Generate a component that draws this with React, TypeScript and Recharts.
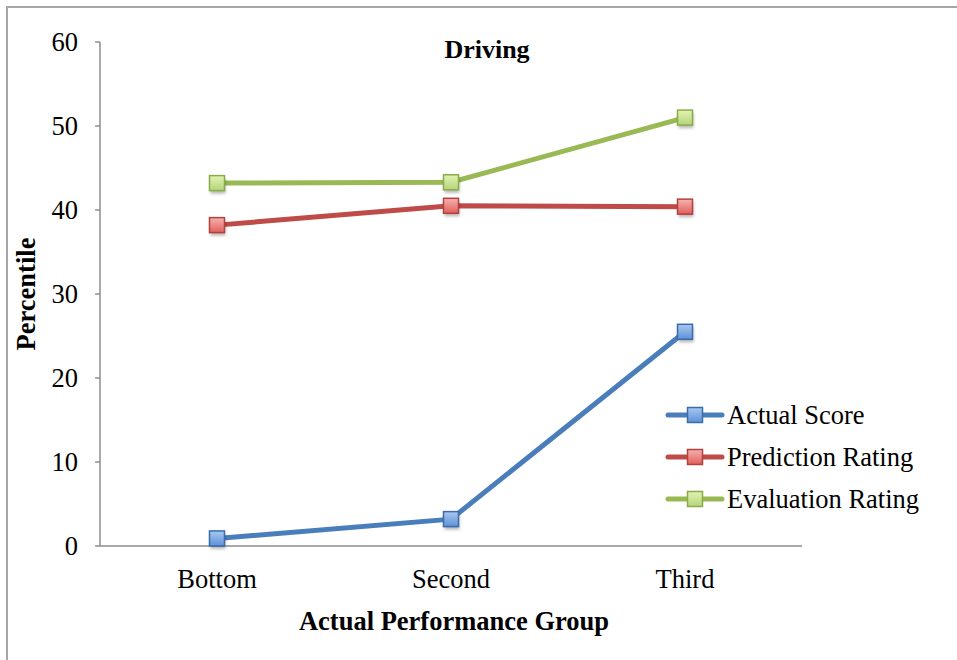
import { LineChart, Line, XAxis, YAxis, Legend, Label } from "recharts";

const groups = ["Bottom", "Second", "Third"];
const actualScore = [0.9, 3.2, 25.5];
const predictionRating = [38.2, 40.5, 40.4];
const evaluationRating = [43.2, 43.3, 51.0];
const yTicks = [0, 10, 20, 30, 40, 50, 60];
const groupEdges = [0, 1, 2, 3];

const series = [
    { key: "actual", name: "Actual Score", line: "#4a7ebb", border: "#3a6cad", light: "#a9c8f0", dark: "#5d91d8", grad: "gBlue" },
    { key: "prediction", name: "Prediction Rating", line: "#be4b48", border: "#b5413e", light: "#f6b2b0", dark: "#e0605c", grad: "gRed" },
    { key: "evaluation", name: "Evaluation Rating", line: "#98b954", border: "#8aac48", light: "#e2f3b3", dark: "#b5d47a", grad: "gGreen" }
];

const data = groups.map((group, i) => ({
    group,
    actual: actualScore[i],
    prediction: predictionRating[i],
    evaluation: evaluationRating[i]
}));

const FONT = "'Liberation Serif', 'Times New Roman', serif";
const AXIS = "#8c8c8c";

function squareDot(s: (typeof series)[number]) {
    return (props: any) => {
        const { cx, cy, index } = props;
        if (cx == null || cy == null) return <g key={index} />;
        return (
            <g key={`${s.key}-${index}`}>
                <rect x={cx - 6.5} y={cy - 4.5} width={15} height={15} fill="rgba(0,0,0,0.28)" filter="url(#blur)" />
                <rect x={cx - 7.5} y={cy - 7.5} width={15} height={15} fill={`url(#${s.grad})`} stroke={s.border} strokeWidth={1.5} />
            </g>
        );
    };
}

function LegendBox() {
    return (
        <div style={{ fontFamily: FONT, fontSize: 26.5, color: "#000" }}>
            {series.map((s) => (
                <div key={s.key} style={{ display: "flex", alignItems: "center", height: 42 }}>
                    <svg width={58} height={20} style={{ overflow: "visible" }}>
                        <line x1={2} y1={10} x2={56} y2={10} stroke={s.line} strokeWidth={5} strokeLinecap="round" />
                        <rect x={21.5} y={2.5} width={15} height={15} fill={`url(#${s.grad})`} stroke={s.border} strokeWidth={1.5} />
                    </svg>
                    <span style={{ marginLeft: 3, whiteSpace: "nowrap" }}>{s.name}</span>
                </div>
            ))}
        </div>
    );
}

export default function App() {
    return (
        <div style={{ position: "absolute", left: 0, top: 0, width: 957, height: 660, background: "#fff", fontFamily: FONT, overflow: "hidden" }}>
            <div style={{ position: "absolute", left: 6, top: 6, width: 1000, height: 1000, borderLeft: "2px solid #a6a6a6", borderTop: "2px solid #a6a6a6" }} />
            <div style={{ position: "absolute", left: 0, top: 35, width: 974, textAlign: "center", fontSize: 26, lineHeight: "30px", fontWeight: "bold" }}>
                Driving
            </div>
            <LineChart
                width={957}
                height={660}
                data={data}
                margin={{ top: 42, right: 155, bottom: 63, left: 0 }}
                style={{ position: "absolute", left: 0, top: 0 }}
            >
                <defs>
                    {series.map((s) => (
                        <linearGradient key={s.grad} id={s.grad} x1="0" y1="0" x2="0" y2="1">
                            <stop offset="0%" stopColor={s.light} />
                            <stop offset="100%" stopColor={s.dark} />
                        </linearGradient>
                    ))}
                    <filter id="blur" x="-50%" y="-50%" width="200%" height="200%">
                        <feGaussianBlur stdDeviation="1.5" />
                    </filter>
                </defs>
                <XAxis
                    xAxisId="edges"
                    type="number"
                    domain={[0, 3]}
                    ticks={groupEdges}
                    allowDataOverflow
                    height={1}
                    tick={false}
                    tickSize={7}
                    axisLine={{ stroke: AXIS, strokeWidth: 1.5 }}
                    tickLine={{ stroke: AXIS, strokeWidth: 1.5 }}
                />
                <XAxis
                    xAxisId="groups"
                    dataKey="group"
                    scale="band"
                    height={50}
                    axisLine={false}
                    tickLine={false}
                    tickSize={0}
                    tickMargin={22}
                    tick={{ fill: "#000", fontSize: 26.5, fontFamily: FONT }}
                >
                    <Label
                        value="Actual Performance Group"
                        position="bottom"
                        offset={14}
                        dx={3}
                        style={{ fill: "#000", fontSize: 26.5, fontWeight: "bold", fontFamily: FONT }}
                    />
                </XAxis>
                <YAxis
                    domain={[0, 60]}
                    ticks={yTicks}
                    width={100}
                    tickSize={5}
                    tickMargin={17}
                    axisLine={{ stroke: AXIS, strokeWidth: 1.5 }}
                    tickLine={{ stroke: AXIS, strokeWidth: 1.5 }}
                    tick={{ fill: "#000", fontSize: 26.5, fontFamily: FONT }}
                >
                    <Label
                        value="Percentile"
                        angle={-90}
                        position="insideLeft"
                        offset={26}
                        style={{ fill: "#000", fontSize: 26.5, fontWeight: "bold", fontFamily: FONT, textAnchor: "middle" }}
                    />
                </YAxis>
                {series.map((s) => (
                    <Line
                        key={s.key}
                        xAxisId="groups"
                        type="linear"
                        dataKey={s.key}
                        name={s.name}
                        stroke={s.line}
                        strokeWidth={5}
                        dot={squareDot(s)}
                        activeDot={false}
                        isAnimationActive={false}
                    />
                ))}
                <Legend
                    layout="vertical"
                    align="center"
                    verticalAlign="middle"
                    content={() => <LegendBox />}
                    wrapperStyle={{ left: 666, top: 394, width: 290 }}
                />
            </LineChart>
        </div>
    );
}
